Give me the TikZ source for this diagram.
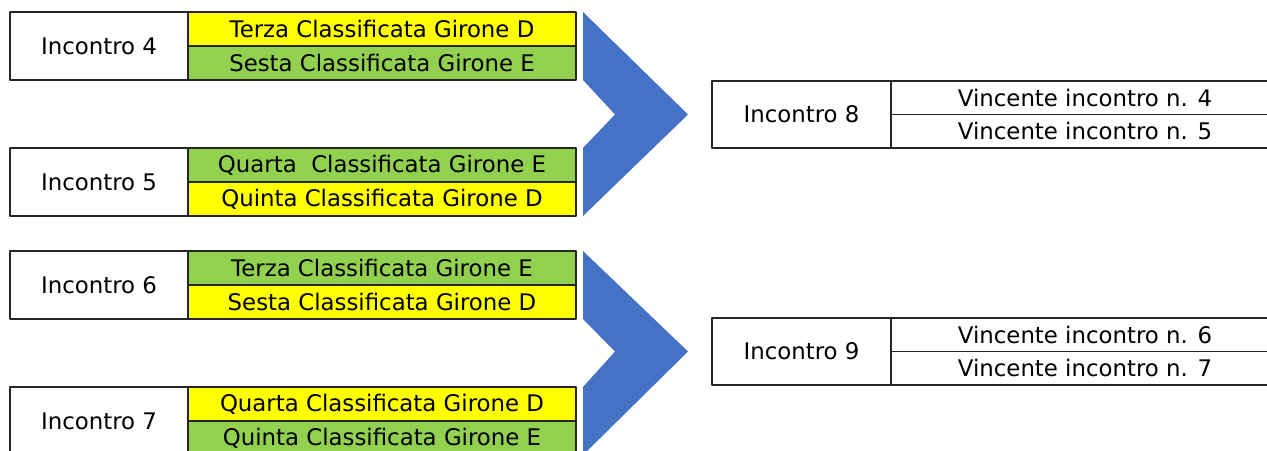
\documentclass[tikz,border=0pt]{standalone}
\usepackage{fontspec}
\setmainfont{DejaVu Sans}
\usetikzlibrary{positioning}
\definecolor{giallo}{HTML}{FFFF00}
\definecolor{verde}{HTML}{92D050}
\definecolor{freccia}{HTML}{4472C4}
\tikzset{
  etich/.style={draw=black!85, line width=1.1pt, minimum width=3.56cm, minimum height=1.36cm, inner sep=0pt, outer sep=0pt, anchor=north west},
  riga/.style={draw=black!85, line width=1.1pt, minimum width=7.76cm, minimum height=.68cm, inner sep=0pt, outer sep=0pt, anchor=north west},
}
\begin{document}
\begin{tikzpicture}[font=\fontsize{13}{15}\selectfont, line join=round]
\useasboundingbox (0,0) rectangle (25.34,9);
\clip (0,0) rectangle (25.34,9);
% primo turno
\foreach \n/\y/\ca/\ta/\cb/\tb in {
  4/8.76/giallo/Terza Classificata Girone D/verde/Sesta Classificata Girone E,
  5/6.04/verde/Quarta\ \ Classificata Girone E/giallo/Quinta Classificata Girone D,
  6/3.98/verde/Terza Classificata Girone E/giallo/Sesta Classificata Girone D,
  7/1.26/giallo/Quarta Classificata Girone D/verde/Quinta Classificata Girone E}
{
  \node[etich] (inc\n) at (0.2,\y) {Incontro \n};
  \node[riga, fill=\ca] (a\n) at (inc\n.north east) {\ta};
  \node[riga, fill=\cb, below=0pt of a\n] (b\n) {\tb};
}
% secondo turno
\foreach \n/\y/\p/\q in {8/7.38/4/5, 9/2.64/6/7}
{
  \node[etich, minimum width=3.58cm, minimum height=1.34cm] (inc\n) at (14.24,\y) {Incontro \n};
  \node[riga, minimum height=.67cm] (a\n) at (inc\n.north east) {Vincente incontro n. \p};
  \node[riga, minimum height=.67cm, below=0pt of a\n] (b\n) {Vincente incontro n. \q};
}
% frecce
\foreach \s/\t/\m in {4/5/8, 6/7/9}
\fill[freccia] ([xshift=.14cm]a\s.north east) -- ([xshift=-.48cm]inc\m.west)
  -- ([xshift=.14cm]b\t.south east) -- ([xshift=.14cm]a\t.north east)
  -- ([xshift=-1.94cm]inc\m.west) -- ([xshift=.14cm]b\s.south east) -- cycle;
\end{tikzpicture}
\end{document}
